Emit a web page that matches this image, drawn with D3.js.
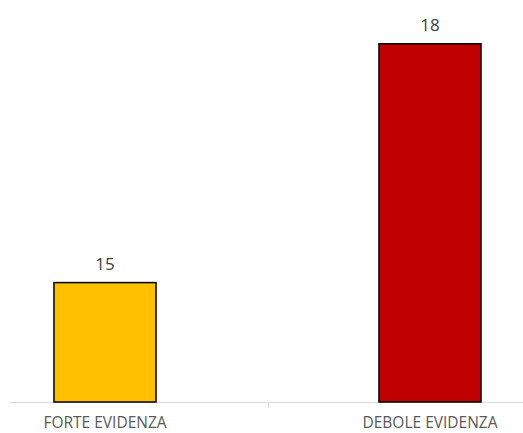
<!DOCTYPE html>
<html>
<head>
<meta charset="utf-8">
<script src="https://cdn.jsdelivr.net/npm/d3@7/dist/d3.min.js"></script>
<style>
  body { margin: 0; background: #fff; }
  text { font-family: "Open Sans", "Noto Sans", sans-serif; }
</style>
</head>
<body>
<div id="chart"></div>
<script>
const categories = ['FORTE EVIDENZA', 'DEBOLE EVIDENZA'];
const values = [15, 18];
const colors = ['#FFC000', '#C00000'];

const W = 523, H = 433;
const svg = d3.select('#chart').append('svg')
    .attr('width', W)
    .attr('height', H);

// axis does not start at zero, same as the original
const y = d3.scaleLinear()
    .domain([13.5, 18.5])
    .range([402, 4]);

const x = d3.scaleBand()
    .domain(categories)
    .range([-57.5, 592.5])
    .paddingInner(0.686)
    .paddingOuter(0.343);

// baseline
svg.append('line')
    .attr('x1', 10).attr('x2', W)
    .attr('y1', y(13.5) + 0.5).attr('y2', y(13.5) + 0.5)
    .attr('stroke', '#d9d9d9')
    .attr('stroke-width', 1);

// tick between the categories
const mid = (x(categories[0]) + x(categories[1]) + x.bandwidth()) / 2;
svg.append('line')
    .attr('x1', Math.round(mid) + 0.5).attr('x2', Math.round(mid) + 0.5)
    .attr('y1', y(13.5)).attr('y2', y(13.5) + 6)
    .attr('stroke', '#d9d9d9');

// bars
svg.selectAll('.bar')
    .data(values)
    .enter().append('rect')
    .attr('class', 'bar')
    .attr('x', (d, i) => x(categories[i]))
    .attr('y', d => y(d))
    .attr('width', x.bandwidth())
    .attr('height', d => y(13.5) - y(d))
    .attr('fill', (d, i) => colors[i])
    .attr('stroke', '#000')
    .attr('stroke-width', 1.5);

// value labels
svg.selectAll('.val')
    .data(values)
    .enter().append('text')
    .attr('class', 'val')
    .attr('x', (d, i) => x(categories[i]) + x.bandwidth() / 2)
    .attr('y', d => y(d) - 13)
    .attr('text-anchor', 'middle')
    .style('font-size', '17px')
    .style('fill', '#404040')
    .text(d => d);

// category labels
svg.selectAll('.cat')
    .data(categories)
    .enter().append('text')
    .attr('class', 'cat')
    .attr('x', d => x(d) + x.bandwidth() / 2)
    .attr('y', 428)
    .attr('text-anchor', 'middle')
    .style('font-size', '15.5px')
    .style('fill', '#595959')
    .text(d => d);
</script>
</body>
</html>
